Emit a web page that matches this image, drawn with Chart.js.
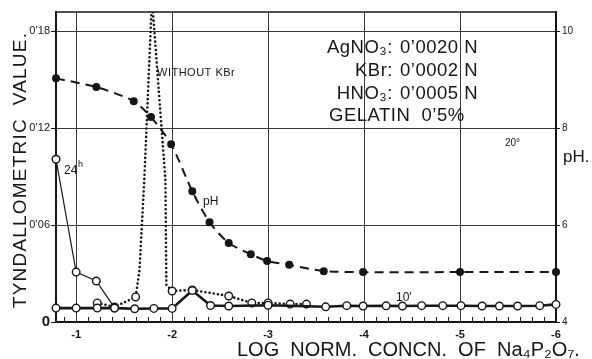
<!DOCTYPE html>
<html><head><meta charset="utf-8">
<script src="https://cdn.jsdelivr.net/npm/chart.js@4.4.1/dist/chart.umd.min.js"></script>
<style>html,body{margin:0;padding:0;background:#fff}canvas{display:block}</style>
</head><body>
<canvas id="c" width="592" height="359"></canvas>
<script>
// ---- axis ticks ----
const xTickValues = [-1, -2, -3, -4, -5, -6];
const xTickLabels = ['-1', '-2', '-3', '-4', '-5', '-6'];
const xMinorStep = 0.125;
const tyndallTicks = [0, 0.06, 0.12, 0.18];
const tyndallTickLabels = ['0', '0\u201906', '0\u201912', '0\u201918'];
const pHTicks = [4, 6, 8, 10];
const pHTickLabels = ['4', '6', '8', '10'];

// ---- series: log normal concentration of Na4P2O7 (x) ----
// pH (right axis)
const pHX = [-0.79, -1.21, -1.60, -1.78, -1.99, -2.21, -2.39, -2.59, -2.82, -2.99, -3.22, -3.58, -3.99, -5.00, -6.00];
const pHY = [9.03, 8.85, 8.56, 8.23, 7.67, 6.70, 6.06, 5.63, 5.40, 5.26, 5.18, 5.05, 5.03, 5.03, 5.03];

// tyndallometric value after 10 minutes
const t10X = [-0.79, -1.00, -1.22, -1.40, -1.61, -1.81, -2.00, -2.21, -2.40, -2.59, -3.00, -3.60, -3.82, -3.99, -4.23, -4.40, -4.60, -4.82, -5.01, -5.23, -5.41, -5.60, -5.83, -6.00];
const t10Y = [0.0086, 0.0086, 0.0086, 0.0086, 0.0082, 0.0084, 0.0084, 0.0195, 0.0102, 0.0099, 0.0104, 0.0094, 0.0101, 0.0099, 0.0100, 0.0099, 0.0101, 0.0101, 0.0101, 0.0099, 0.0099, 0.0099, 0.0101, 0.0109];

// tyndallometric value after 24 hours
const t24X = [-0.79, -1.00, -1.21, -1.40];
const t24Y = [0.1008, 0.0309, 0.0254, 0.0087];

// without KBr
const noKBrX = [-1.22, -1.40, -1.62, -1.66, -1.71, -1.79, -1.93, -1.94, -2.00, -2.21, -2.59, -2.83, -3.00, -3.23, -3.40];
const noKBrY = [0.0118, 0.0093, 0.0155, 0.0322, 0.0880, 0.2000, 0.0880, 0.0229, 0.0192, 0.0198, 0.0161, 0.0118, 0.0118, 0.0111, 0.0111];

const pts = (xs, ys) => xs.map((x, i) => ({ x: x, y: ys[i] }));
const FONT = '"Liberation Sans", Arial, sans-serif';
const INK = '#161616';

const annot = {
  id: 'annot',
  afterDraw(chart) {
    const { ctx, chartArea: a, scales } = chart;
    const xs = scales.x;
    ctx.save();
    ctx.strokeStyle = INK;
    ctx.fillStyle = INK;
    // minor ticks pointing into the plot
    ctx.lineWidth = 1;
    xs.ticks.forEach(t => {
      if (Number.isInteger(t.value)) return;
      const px = Math.round(xs.getPixelForValue(t.value)) + 0.5;
      ctx.beginPath(); ctx.moveTo(px, a.bottom); ctx.lineTo(px, a.bottom - 5); ctx.stroke();
    });
    // top frame
    ctx.lineWidth = 1.5;
    ctx.beginPath(); ctx.moveTo(a.left, a.top); ctx.lineTo(a.right, a.top); ctx.stroke();

    // axis titles
    ctx.textBaseline = 'middle';
    ctx.save();
    ctx.translate(21, 170);
    ctx.rotate(-Math.PI / 2);
    ctx.textAlign = 'center';
    ctx.font = '19px ' + FONT;
    ctx.letterSpacing = '1.2px';
    ctx.fillText('TYNDALLOMETRIC  VALUE.', 0, 0);
    ctx.restore();

    ctx.textAlign = 'left';
    ctx.font = '20px ' + FONT;
    ctx.letterSpacing = '0px';
    ctx.fillText('LOG  NORM.  CONCN.  OF  Na\u2084P\u2082O\u2087.', 237, 350);
    ctx.font = '17px ' + FONT;
    ctx.fillText('pH.', 563, 157);

    // conditions box
    ctx.font = '18.5px ' + FONT;
    ctx.letterSpacing = '0.5px';
    const rows = [['AgNO\u2083:', '0\u20190020 N', 48], ['KBr:', '0\u20190002 N', 71], ['HNO\u2083:', '0\u20190005 N', 94]];
    rows.forEach(r => {
      ctx.textAlign = 'right'; ctx.fillText(r[0], 393, r[2]);
      ctx.textAlign = 'left'; ctx.fillText(r[1], 400, r[2]);
    });
    ctx.textAlign = 'left';
    ctx.fillText('GELATIN  0\u20195%', 329, 116);

    // curve labels
    ctx.letterSpacing = '0.5px';
    ctx.font = '11px ' + FONT;
    ctx.fillText('WITHOUT KBr', 157, 73);
    ctx.letterSpacing = '0px';
    ctx.font = '12px ' + FONT;
    ctx.fillText('pH', 203, 202);
    ctx.fillText('24', 64, 171);
    ctx.font = '9px ' + FONT;
    ctx.fillText('h', 78, 165);
    ctx.font = '12px ' + FONT;
    ctx.fillText('10\u2032', 396, 298);
    ctx.font = '10px ' + FONT;
    ctx.fillText('20\u00b0', 505, 143);
    ctx.restore();
  }
};

const openCircle = { pointStyle: 'circle', pointBackgroundColor: '#fff', pointBorderColor: INK, pointBorderWidth: 1.4 };

new Chart(document.getElementById('c'), {
  type: 'line',
  data: {
    datasets: [
      Object.assign({ label: '10\u2032', data: pts(t10X, t10Y), yAxisID: 'y', borderColor: INK, borderWidth: 2.6, pointRadius: 3.8, tension: 0, clip: false }, openCircle),
      Object.assign({ label: '24h', data: pts(t24X, t24Y), yAxisID: 'y', borderColor: INK, borderWidth: 1.2, pointRadius: 3.8, tension: 0, clip: false }, openCircle),
      Object.assign({ label: 'Without KBr', data: pts(noKBrX, noKBrY), yAxisID: 'y', borderColor: INK, borderWidth: 2.6, borderDash: [0, 4.2], borderCapStyle: 'round',
        pointRadius: c => (c.raw && c.raw.y < 0.021 ? 3.8 : 0), tension: 0, clip: { left: 10, right: 10, top: 0, bottom: 10 } }, openCircle),
      { label: 'pH', data: pts(pHX, pHY), yAxisID: 'y2', borderColor: INK, borderWidth: 2, borderDash: [9, 6], pointRadius: 3,
        pointBackgroundColor: INK, pointBorderColor: INK, tension: 0.25, clip: false }
    ]
  },
  options: {
    responsive: false, animation: false,
    layout: { padding: { top: 12, left: 0, right: 0, bottom: 0 } },
    plugins: { legend: { display: false }, tooltip: { enabled: false } },
    scales: {
      x: {
        type: 'linear', reverse: true, min: -6, max: -0.79,
        afterBuildTicks: s => {
          const t = [];
          for (let v = -6; v <= -0.8; v += xMinorStep) t.push({ value: Math.round(v * 1000) / 1000 });
          s.ticks = t;
        },
        afterFit: s => { s.height = 37; },
        grid: { color: c => (Number.isInteger(c.tick.value) && c.tick.value !== -6 ? '#3a3a3a' : 'rgba(0,0,0,0)'), lineWidth: 1, drawTicks: false },
        border: { display: true, color: INK, width: 2 },
        ticks: {
          autoSkip: false, maxRotation: 0, padding: 6, color: INK,
          font: { family: FONT, size: 11, weight: 'bold' },
          callback: v => { const i = xTickValues.indexOf(v); return i >= 0 ? xTickLabels[i] : ''; }
        }
      },
      y: {
        position: 'left', min: 0, max: 0.192,
        afterBuildTicks: s => { s.ticks = tyndallTicks.map(v => ({ value: v })); },
        afterFit: s => { s.width = 56; },
        grid: { color: c => (c.tick.value === 0 ? 'rgba(0,0,0,0)' : '#3a3a3a'), lineWidth: 1, drawTicks: true, tickLength: 5, tickColor: INK },
        border: { display: true, color: INK, width: 2 },
        ticks: {
          padding: 1, color: INK,
          font: c => (c.tick && c.tick.value === 0 ? { family: FONT, size: 15, weight: 'bold' } : { family: FONT, size: 11 }),
          callback: v => { const i = tyndallTicks.indexOf(v); return i >= 0 ? tyndallTickLabels[i] : ''; }
        }
      },
      y2: {
        position: 'right', min: 4, max: 10.4,
        afterBuildTicks: s => { s.ticks = pHTicks.map(v => ({ value: v })); },
        afterFit: s => { s.width = 36; },
        grid: { drawOnChartArea: false, drawTicks: true, tickLength: 4, tickColor: INK },
        border: { display: true, color: INK, width: 2 },
        ticks: {
          padding: 2, color: INK, font: { family: FONT, size: 10 },
          callback: v => { const i = pHTicks.indexOf(v); return i >= 0 ? pHTickLabels[i] : ''; }
        }
      }
    }
  },
  plugins: [annot]
});
</script>
</body></html>
